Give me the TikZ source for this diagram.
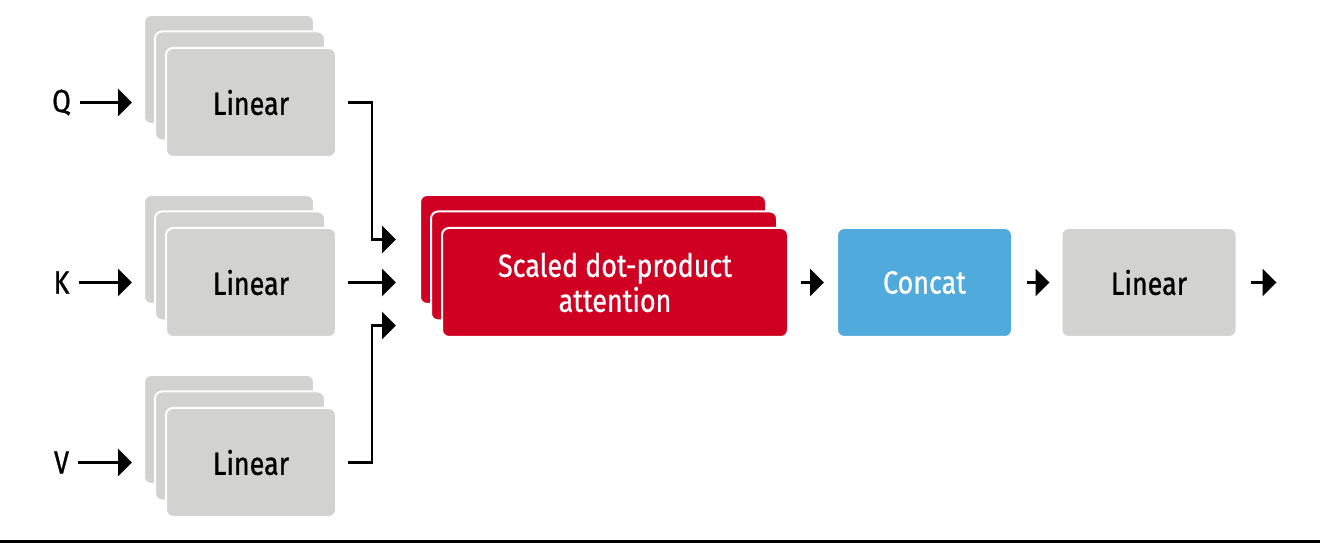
\documentclass[tikz,border=0pt]{standalone}
\usepackage{fontspec}
\setmainfont{Fira Sans}[FakeStretch=0.84, FakeBold=0.9, BoldFont=*, BoldFeatures={FakeBold=0.9}]
\usetikzlibrary{positioning, arrows.meta, calc}
\definecolor{cardgray}{RGB}{210,210,209}
\definecolor{attnred}{RGB}{208,0,35}
\definecolor{concatblue}{RGB}{80,170,220}

\tikzset{
  card/.style={fill=cardgray, draw=white, line width=1pt, rounded corners=3.5pt,
    minimum width=85pt, minimum height=54.5pt, inner sep=0pt, align=center,
    font=\fontsize{16}{17.5}\selectfont},
  redcard/.style={card, fill=attnred, text=white, minimum width=173pt},
  bluecard/.style={card, fill=concatblue, text=white, minimum width=87.5pt},
  graycard/.style={card, minimum width=87.5pt},
  inlabel/.style={inner sep=0pt, font=\fontsize{16}{17.5}\selectfont},
  flow/.style={line width=1.2pt, -{Triangle[length=7pt, width=13.5pt]}},
}

\begin{document}
\begin{tikzpicture}[x=0.5pt, y=-0.5pt]
    \useasboundingbox (0,0) rectangle (1320,544);

    % Linear stacks for Q, K, V
    \foreach \nm/\lbl/\yy in {q/Q/102.5, k/K/282.5, v/V/462.5} {
        \node[card] (\nm linb) at (229,\yy-33) {};
        \node[card] (\nm linm) at (240,\yy-16.5) {};
        \node[card] (\nm lin) at (251,\yy) {Linear};
        \node[inlabel] (\nm lab) at (61.5,\yy) {\lbl};
        \draw[flow, shorten <=4.5pt, shorten >=5.5pt] (\nm lab) -- (\nm lab -| \nm linb.west);
    }

    % Attention heads
    \node[redcard] (attnb) at (593,249.5) {};
    \node[redcard] (attnm) at (604,266) {};
    \node[redcard] (attn) at (615,282.5) {Scaled dot-product\\attention};

    \node[bluecard] (concat) at (924.5,282.5) {Concat};
    \node[graycard] (outlin) at (1149,282.5) {Linear};
    \coordinate (out) at ($(outlin.east)+(39,0)$);

    % connectors into attention
    \draw[flow, rounded corners=0pt, shorten <=5.5pt, shorten >=11.5pt]
        (qlin.east) -- ++(35,0) |- ($(attn.west -| attnb.west)+(0,-43)$);
    \draw[flow, shorten <=5.5pt, shorten >=11.5pt] (klin.east) -- (attn.west -| attnb.west);
    \draw[flow, shorten <=5.5pt, shorten >=11.5pt]
        (vlin.east) -- ++(35,0) |- ($(attn.west -| attnb.west)+(0,43)$);

    \draw[flow, shorten <=6pt, shorten >=6pt] (attn) -- (concat);
    \draw[flow, shorten <=7pt, shorten >=5.5pt] (concat) -- (outlin);
    \draw[flow, shorten <=6.5pt] (outlin) -- (out);

    % rule at the foot
    \draw[line width=1.5pt] (0,541.5) -- (1320,541.5);
\end{tikzpicture}
\end{document}
